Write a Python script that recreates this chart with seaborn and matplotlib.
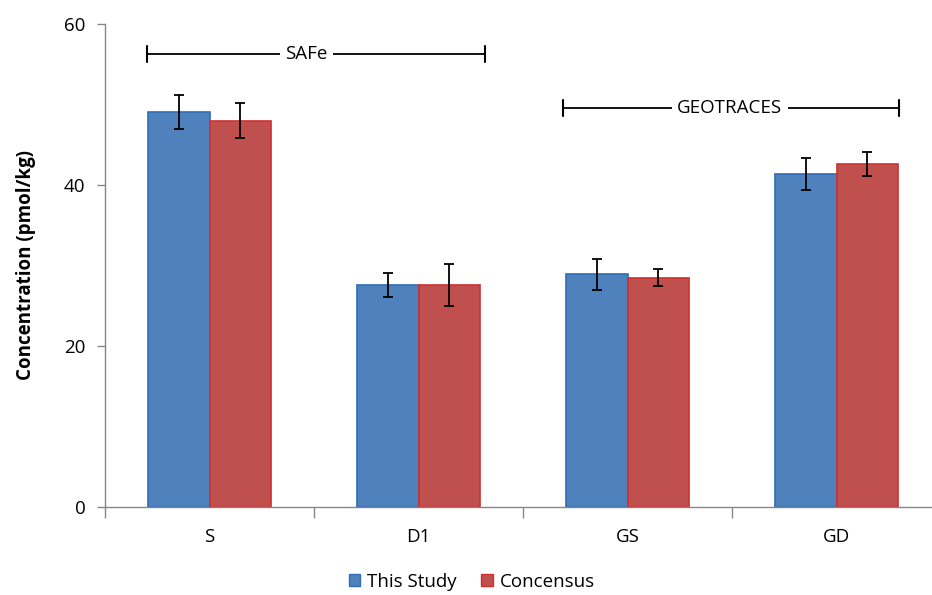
import matplotlib
matplotlib.use("Agg")
import matplotlib.pyplot as plt
import seaborn as sns
import pandas as pd
import numpy as np
from matplotlib.patches import Patch

categories = ["S", "D1", "GS", "GD"]
series = ["This Study", "Concensus"]
this_study = [49.1, 27.6, 28.9, 41.4]
this_study_err = [2.1, 1.5, 1.9, 2.0]
concensus = [48.0, 27.6, 28.5, 42.6]
concensus_err = [2.2, 2.6, 1.05, 1.5]
yticks = [0, 20, 40, 60]

colors = {"This Study": "#4F81BD", "Concensus": "#C0504D"}
edges = {"This Study": "#2F6DB5", "Concensus": "#D0302E"}

df = pd.DataFrame({
    "Sample": categories * 2,
    "Series": [series[0]] * 4 + [series[1]] * 4,
    "Value": this_study + concensus,
})

sns.set_style("white")
plt.rcParams["font.family"] = ["Open Sans", "DejaVu Sans"]
plt.rcParams["text.color"] = "black"
plt.rcParams["axes.labelcolor"] = "black"
plt.rcParams["xtick.color"] = "black"
plt.rcParams["ytick.color"] = "black"

fig = plt.figure(figsize=(9.32, 5.95), dpi=100)
ax = fig.add_axes([105 / 932, 88 / 595, 836 / 932, 483 / 595])

sns.barplot(data=df, x="Sample", y="Value", hue="Series", order=categories,
            hue_order=series, palette=colors, width=0.584, gap=0,
            errorbar=None, ax=ax, legend=False, saturation=1)

errs = [this_study_err, concensus_err]
vals = [this_study, concensus]
for cont, s, e, v in zip(ax.containers, series, errs, vals):
    xs = []
    for p in cont.patches:
        p.set_edgecolor(edges[s])
        p.set_linewidth(1.2)
        xs.append(p.get_x() + p.get_width() / 2)
    ax.errorbar(xs, v, yerr=e, fmt="none", ecolor="black", elinewidth=1.3,
                capsize=3.5, capthick=1.3, zorder=5)

ax.set_xlim(-0.5, 3.5)
ax.set_ylim(0, 60)
ax.set_yticks(yticks)
ax.set_yticklabels([str(t) for t in yticks])
ax.set_xticks([0, 1, 2, 3])
ax.set_xticklabels(categories)
ax.set_xticks([-0.5, 0.5, 1.5, 2.5, 3.5], minor=True)
ax.tick_params(axis="x", which="major", bottom=False, length=0, pad=15, labelsize=13.5)
ax.tick_params(axis="x", which="minor", bottom=True, length=8, width=1,
               color="#868686", direction="out")
ax.tick_params(axis="y", left=True, length=6, width=1, color="#868686",
               direction="out", pad=8, labelsize=13.5)
ax.set_xlabel("")
ax.set_ylabel("Concentration (pmol/kg)", fontsize=13.5, fontweight="bold", labelpad=20)

for side in ["top", "right"]:
    ax.spines[side].set_visible(False)
for side in ["left", "bottom"]:
    ax.spines[side].set_color("#868686")
    ax.spines[side].set_linewidth(1)

# group brackets
def bracket(x0, x1, y, label, xt):
    cap = 1.0
    ax.plot([x0, x0], [y - cap, y + cap], color="black", lw=1.5, clip_on=False)
    ax.plot([x1, x1], [y - cap, y + cap], color="black", lw=1.5, clip_on=False)
    ax.plot([x0, x1], [y, y], color="black", lw=1.3, clip_on=False)
    ax.text(xt, y, label, ha="center", va="center", fontsize=13.5,
            bbox=dict(facecolor="white", edgecolor="none", pad=4))

bracket(-0.30, 1.316, 56.3, "SAFe", 0.464)
bracket(1.689, 3.30, 49.6, "GEOTRACES", 2.49)

handles = [Patch(facecolor=colors[s], edgecolor=edges[s], label=s) for s in series]
fig.legend(handles=handles, loc="center", bbox_to_anchor=(472 / 932, 1 - 582 / 595),
           ncol=2, frameon=False, fontsize=13.5, handlelength=0.6, handleheight=0.6,
           columnspacing=1.3, handletextpad=0.4)

fig.savefig("out.png", dpi=100)
